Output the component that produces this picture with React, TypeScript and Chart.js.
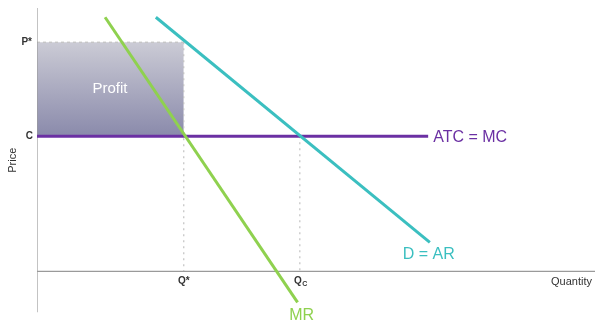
import React, { useEffect, useRef } from "react";
import { Chart, registerables } from "chart.js";

Chart.register(...registerables);

// Economic levels (data units)
const P_STAR = 87;
const C_LEVEL = 51.3;
const Q_STAR = 26.3;
const Q_C = 47.1;

// Curves
const MR_POINTS = [
  { x: 12.2, y: 96.5 },
  { x: 46.7, y: -11.8 },
];
const D_POINTS = [
  { x: 21.3, y: 96.5 },
  { x: 70.4, y: 11 },
];
const ATC_POINTS = [
  { x: 0, y: C_LEVEL },
  { x: 70.1, y: C_LEVEL },
];
const X_AXIS = [
  { x: 0, y: 0 },
  { x: 100, y: 0 },
];
const Y_AXIS = [
  { x: 0, y: -15.5 },
  { x: 0, y: 100 },
];

const AXIS_LABELS = {
  price: "Price",
  quantity: "Quantity",
  pStar: "P*",
  c: "C",
  qStar: "Q*",
  qc: "Q",
  qcSub: "C",
};
const CURVE_LABELS = { mr: "MR", d: "D = AR", atc: "ATC = MC", profit: "Profit" };

const GREEN = "#8fd14f";
const TEAL = "#3bbfc0";
const PURPLE = "#6b30a3";
const AXIS = "#9a9a9a";
const DOT = "#c2c2c2";
const FONT = "'Liberation Sans', Arial, Helvetica, sans-serif";

const labelPlugin = {
  id: "labels",
  afterDatasetsDraw(chart: any) {
    const { ctx, scales } = chart;
    const xs = scales.x;
    const ys = scales.y;
    const px = (v: number) => xs.getPixelForValue(v);
    const py = (v: number) => ys.getPixelForValue(v);
    ctx.save();
    ctx.textBaseline = "middle";

    // Profit
    ctx.fillStyle = "#ffffff";
    ctx.font = `15px ${FONT}`;
    ctx.textAlign = "center";
    ctx.fillText(CURVE_LABELS.profit, px(0) + 73, py(P_STAR) + 47);

    // axis tick labels
    ctx.fillStyle = "#333333";
    ctx.font = `bold 10px ${FONT}`;
    ctx.textAlign = "right";
    ctx.fillText(AXIS_LABELS.pStar, px(0) - 5, py(P_STAR));
    ctx.fillText(AXIS_LABELS.c, px(0) - 4, py(C_LEVEL));
    ctx.textAlign = "center";
    ctx.fillText(AXIS_LABELS.qStar, px(Q_STAR), py(0) + 10);
    ctx.fillText(AXIS_LABELS.qc, px(Q_C) - 2, py(0) + 10);
    ctx.font = `bold 7px ${FONT}`;
    ctx.fillText(AXIS_LABELS.qcSub, px(Q_C) + 5, py(0) + 13);

    ctx.font = `11px ${FONT}`;
    ctx.textAlign = "left";
    ctx.fillText(AXIS_LABELS.quantity, px(0) + 514, py(0) + 11);
    ctx.save();
    ctx.translate(px(0) - 24, py(C_LEVEL) + 24);
    ctx.rotate(-Math.PI / 2);
    ctx.textAlign = "center";
    ctx.fillText(AXIS_LABELS.price, 0, 0);
    ctx.restore();

    // curve labels
    ctx.font = `16px ${FONT}`;
    ctx.fillStyle = GREEN;
    ctx.textAlign = "center";
    ctx.fillText(CURVE_LABELS.mr, px(MR_POINTS[1].x) + 4, py(MR_POINTS[1].y) + 13);
    ctx.fillStyle = TEAL;
    ctx.fillText(CURVE_LABELS.d, px(D_POINTS[1].x) - 1, py(D_POINTS[1].y) + 12);
    ctx.fillStyle = PURPLE;
    ctx.textAlign = "left";
    ctx.fillText(CURVE_LABELS.atc, px(ATC_POINTS[1].x) + 5, py(C_LEVEL) + 1);
    ctx.restore();
  },
};

export default function App() {
  const ref = useRef<HTMLCanvasElement>(null);
  useEffect(() => {
    if (!ref.current) return;
    const line = (data: any[], color: string, width: number, extra: any = {}) => ({
      type: "line",
      data,
      borderColor: color,
      borderWidth: width,
      pointRadius: 0,
      showLine: true,
      fill: false,
      tension: 0,
      ...extra,
    });
    const chart = new Chart(ref.current, {
      type: "scatter",
      data: {
        datasets: [
          line(
            [
              { x: 0, y: P_STAR },
              { x: Q_STAR, y: P_STAR },
            ],
            DOT,
            1.2,
            {
              borderDash: [3, 3],
              fill: { value: C_LEVEL },
              backgroundColor: (c: any) => {
                const ch = c.chart;
                const area = ch.chartArea;
                if (!area) return "#aaaabf";
                const g = ch.ctx.createLinearGradient(
                  0,
                  ch.scales.y.getPixelForValue(P_STAR),
                  0,
                  ch.scales.y.getPixelForValue(C_LEVEL)
                );
                g.addColorStop(0, "#cbcbd5");
                g.addColorStop(1, "#8a8aab");
                return g;
              },
              order: 10,
            }
          ),
          line(
            [
              { x: Q_STAR, y: P_STAR },
              { x: Q_STAR, y: 0 },
            ],
            DOT,
            1.2,
            { borderDash: [2, 4], order: 9 }
          ),
          line(
            [
              { x: Q_C, y: C_LEVEL },
              { x: Q_C, y: 0 },
            ],
            DOT,
            1.2,
            { borderDash: [2, 4], order: 9 }
          ),
          line(X_AXIS, AXIS, 1.2, { order: 8 }),
          line(Y_AXIS, AXIS, 1.2, { order: 8 }),
          line(ATC_POINTS, PURPLE, 3, { order: 5 }),
          line(D_POINTS, TEAL, 3, { order: 4 }),
          line(MR_POINTS, GREEN, 3, { order: 3 }),
        ] as any,
      },
      options: {
        animation: false,
        responsive: false,
        maintainAspectRatio: false,
        layout: { padding: { left: 37, right: 0, top: 8, bottom: 0 } },
        plugins: { legend: { display: false }, tooltip: { enabled: false } },
        scales: {
          x: { type: "linear", min: 0, max: 100, display: false },
          y: { type: "linear", min: -20, max: 100, display: false },
        },
      },
      plugins: [labelPlugin],
    } as any);
    return () => chart.destroy();
  }, []);
  return (
    <div style={{ position: "absolute", left: 0, top: 0, width: 595, height: 324, background: "#fff" }}>
      <canvas ref={ref} width={595} height={324} style={{ display: "block" }} />
    </div>
  );
}
